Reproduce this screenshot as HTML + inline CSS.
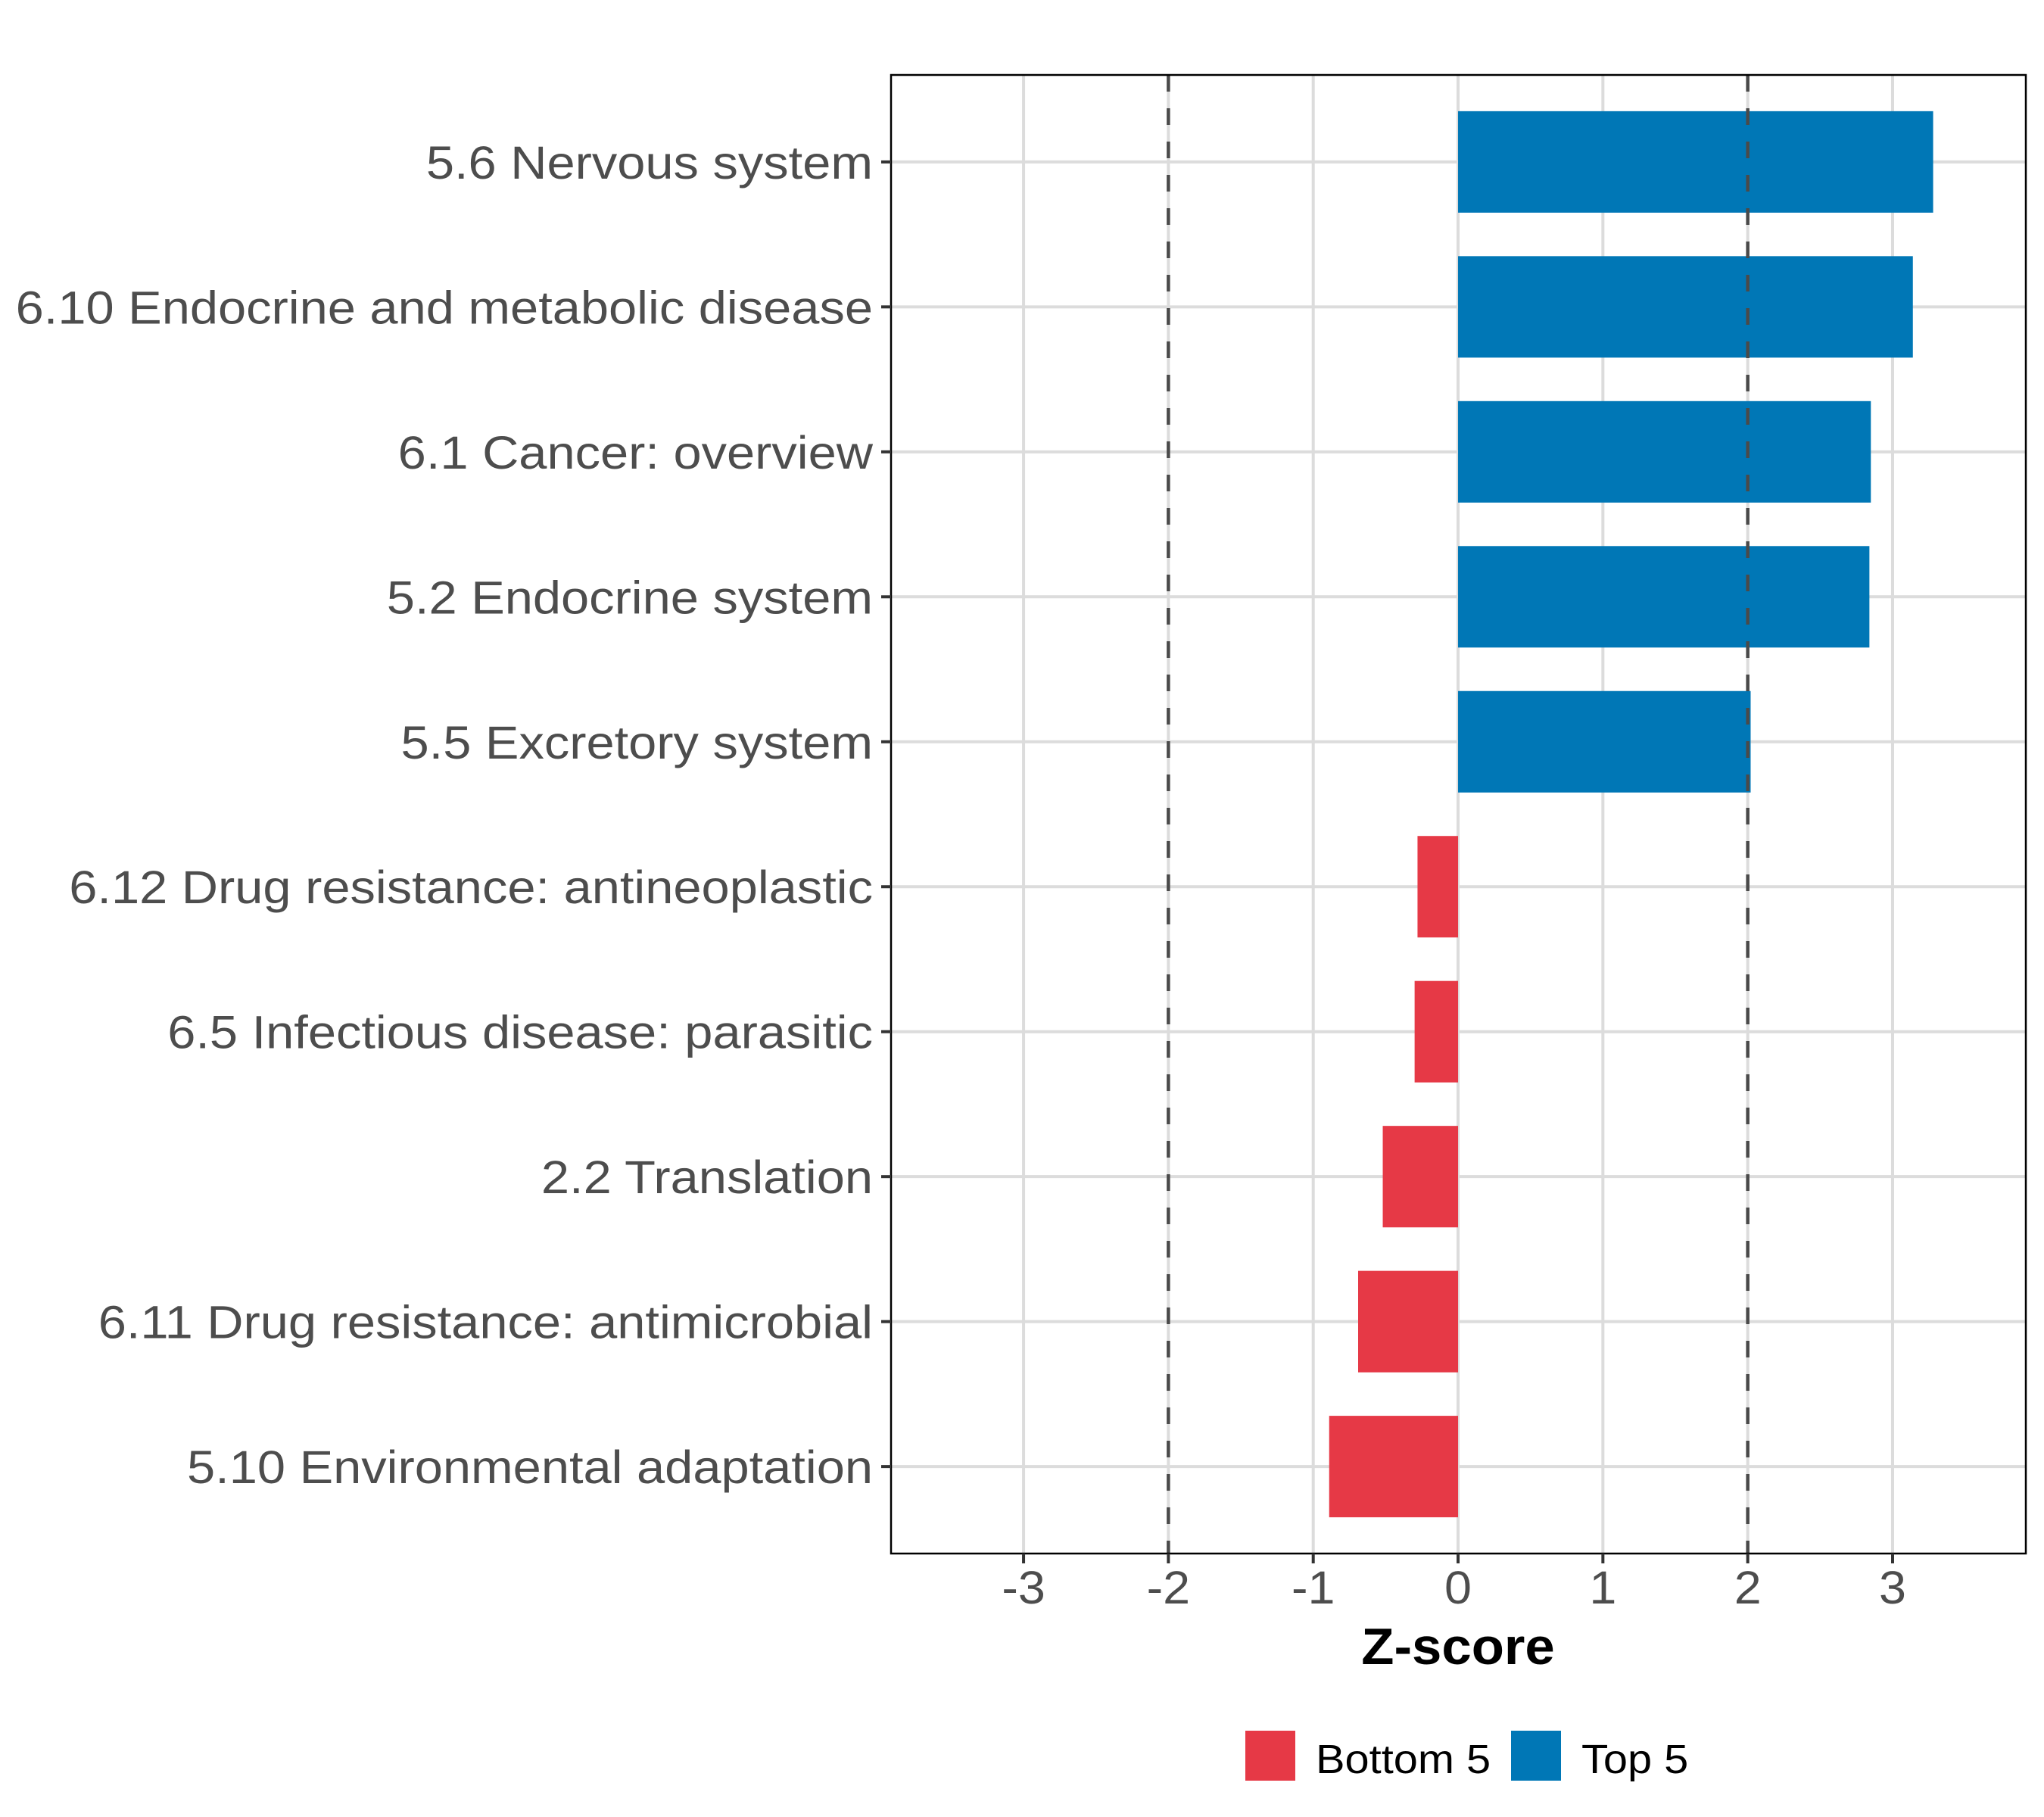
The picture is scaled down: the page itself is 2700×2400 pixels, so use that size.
<!DOCTYPE html>
<html><head><meta charset="utf-8"><style>
html,body{margin:0;padding:0;background:#fff;}
svg{display:block;font-family:"Liberation Sans",Arial,sans-serif;}
</style></head><body>
<svg id="chart" width="2700" height="2400" viewBox="0 0 2700 2400"></svg>
<script>
const categories = ["5.6 Nervous system","6.10 Endocrine and metabolic disease","6.1 Cancer: overview","5.2 Endocrine system","5.5 Excretory system","6.12 Drug resistance: antineoplastic","6.5 Infectious disease: parasitic","2.2 Translation","6.11 Drug resistance: antimicrobial","5.10 Environmental adaptation"];
const zscores = [3.28, 3.14, 2.85, 2.84, 2.02, -0.28, -0.30, -0.52, -0.69, -0.89];
const groups = ["Top 5","Top 5","Top 5","Top 5","Top 5","Bottom 5","Bottom 5","Bottom 5","Bottom 5","Bottom 5"];
const xTicks = [-3,-2,-1,0,1,2,3];
const thresholds = [-2, 2];
const legendLabels = ["Bottom 5","Top 5"];

const NS="http://www.w3.org/2000/svg";
const svg=document.getElementById('chart');
const P={l:1177,r:2676,t:99,b:2052};
const xMin=-3.915,xMax=3.92;
const colors={"Top 5":"#0077b6","Bottom 5":"#e63946"};
function xs(v){return P.l+(v-xMin)/(xMax-xMin)*(P.r-P.l);}
const n=categories.length;
const band=(P.b-P.t)/(n-1+1.2);
function ys(i){return P.t+band*0.6+i*band;}
function mk(tag,attrs,parent){const e=document.createElementNS(NS,tag);for(const k in attrs)e.setAttribute(k,attrs[k]);(parent||svg).appendChild(e);return e;}

xTicks.forEach(t=>{
  const g=mk('line',{x1:xs(t),x2:xs(t),y1:P.t,y2:P.b,stroke:'#dcdcdc','stroke-width':4});
  
  
});
categories.forEach((c,i)=>{
  const g=mk('line',{x1:P.l,x2:P.r,y1:ys(i),y2:ys(i),stroke:'#dcdcdc','stroke-width':4});
  
  
});
categories.forEach((c,i)=>{
  const v=zscores[i];
  const x0=xs(Math.min(0,v)),x1=xs(Math.max(0,v));
  const r=mk('rect',{x:x0,y:ys(i)-band*0.35,width:x1-x0,height:band*0.7,fill:colors[groups[i]]});
  
  
});
thresholds.forEach(t=>{
  const l=mk('line',{x1:xs(t),x2:xs(t),y1:P.t,y2:P.b,stroke:'#4a4a4a','stroke-width':4.5,'stroke-dasharray':'22 22'});
  
  
});
const border=mk('rect',{x:P.l,y:P.t,width:P.r-P.l,height:P.b-P.t,fill:'none',stroke:'#000','stroke-width':2.5});


categories.forEach((c,i)=>{
  const tk=mk('line',{x1:P.l-13,x2:P.l,y1:ys(i),y2:ys(i),stroke:'#333','stroke-width':4});
  
  
  const t=mk('text',{x:0,y:0,transform:'translate('+(P.l-24)+','+(ys(i)+22)+') scale(1.095,1)','text-anchor':'end','font-size':61,fill:'#4d4d4d'});
  t.textContent=c;
  
  
});
xTicks.forEach(v=>{
  const tk=mk('line',{x1:xs(v),x2:xs(v),y1:P.b,y2:P.b+13,stroke:'#333','stroke-width':4});
  
  
  const t=mk('text',{x:0,y:0,transform:'translate('+xs(v)+',2118) scale(1.06,1)','text-anchor':'middle','font-size':61,fill:'#4d4d4d'});
  t.textContent=String(v);
  
  
});
const xt=mk('text',{x:0,y:0,transform:'translate('+xs(0)+',2198) scale(1.04,1)','text-anchor':'middle','font-size':68,'font-weight':'bold',fill:'#000'});
xt.textContent='Z-score';


const legX=[1645,1996];
legendLabels.forEach((lab,i)=>{
  const r=mk('rect',{x:legX[i],y:2286,width:66,height:66,fill:colors[lab]});
  
  
  const t=mk('text',{x:0,y:0,transform:'translate('+(legX[i]+93)+',2342) scale(1.07,1)','font-size':54,fill:'#000'});
  t.textContent=lab;
  
  
});
</script>
</body></html>
